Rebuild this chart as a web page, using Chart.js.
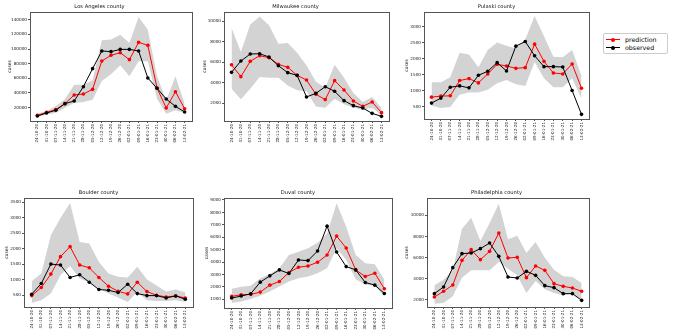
<!DOCTYPE html>
<html>
<head>
<meta charset="utf-8">
<script src="https://cdn.jsdelivr.net/npm/chart.js@4"></script>
<style>
  html, body { margin: 0; padding: 0; background: #fff; }
  body { width: 673px; height: 336px; position: relative; overflow: hidden; font-family: "DejaVu Sans", sans-serif; }
  canvas { position: absolute; }
  #legend { position: absolute; left: 603px; top: 33px; width: 63px; height: 19px; border: 1px solid #ccc; border-radius: 2px; background: #fff; font-size: 6.3px; color: #000; }
  #legend .line { position: absolute; left: 2px; width: 14px; height: 1px; }
  #legend .dot { position: absolute; left: 7px; width: 4px; height: 4px; border-radius: 50%; }
  #legend .txt { position: absolute; left: 21px; line-height: 7px; white-space: nowrap; }
</style>
</head>
<body>
<div id="legend">
  <div class="line" style="top:5px;background:#ff0000"></div>
  <div class="dot" style="top:3.5px;background:#ff0000"></div>
  <div class="txt" style="top:2px">prediction</div>
  <div class="line" style="top:13px;background:#000"></div>
  <div class="dot" style="top:11.5px;background:#000"></div>
  <div class="txt" style="top:10px">observed</div>
</div>
<script>
const dates = ['24-10-20','31-10-20','07-11-20','14-11-20','21-11-20','28-11-20','05-12-20','12-12-20','19-12-20','26-12-20','02-01-21','09-01-21','16-01-21','23-01-21','30-01-21','06-02-21','13-02-21'];

// Los Angeles
const laObserved   = [8600, 12700, 16400, 25500, 29100, 48600, 73200, 97300, 96400, 99500, 99500, 97300, 60500, 46400, 31800, 21800, 14100];
const laPrediction = [9500, 13600, 17300, 25500, 37300, 38600, 45000, 83600, 91400, 95000, 85500, 109100, 105000, 46800, 19500, 41800, 18600];
const laUpper      = [11800, 15500, 21800, 31800, 51400, 51400, 57300, 111800, 113000, 119500, 108200, 143600, 126400, 62700, 30000, 62700, 25500];
const laLower      = [7300, 10500, 12700, 20000, 26400, 27700, 30900, 56400, 65500, 77700, 62700, 83200, 83200, 32300, 11800, 16400, 12700];
const laTicks      = [20000, 40000, 60000, 80000, 100000, 120000, 140000];

// Milwaukee
const mkObserved   = [4990, 6100, 6780, 6810, 6490, 5640, 4960, 4700, 2590, 2940, 3590, 3140, 2230, 1740, 1510, 990, 700];
const mkPrediction = [5740, 4570, 6070, 6620, 6420, 5770, 5480, 4700, 4240, 2850, 2330, 4180, 3270, 2200, 1670, 2100, 1060];
const mkUpper      = [9350, 6980, 9670, 10450, 9580, 7790, 7850, 6910, 5670, 4110, 3500, 5740, 4470, 2980, 2100, 2590, 1510];
const mkLower      = [3400, 2360, 3400, 4540, 4470, 4470, 3720, 3240, 3140, 1670, 1540, 2420, 1870, 1540, 1350, 1540, 800];
const mkTicks      = [2000, 4000, 6000, 8000, 10000];

// Pulaski
const pkObserved   = [614, 770, 1112, 1153, 1091, 1485, 1610, 1880, 1620, 2398, 2543, 2097, 1755, 1755, 1745, 1008, 261];
const pkPrediction = [800, 832, 842, 1320, 1382, 1247, 1527, 1828, 1776, 1703, 1724, 2460, 1921, 1558, 1527, 1838, 1081];
const pkUpper      = [1268, 1268, 1423, 2191, 2139, 1734, 2274, 2512, 2409, 2326, 2606, 3342, 2710, 2066, 2046, 2274, 1465];
const pkLower      = [530, 460, 490, 873, 946, 946, 1029, 1236, 1340, 1205, 1153, 1900, 1392, 1112, 1112, 1392, 749];
const pkTicks      = [500, 1000, 1500, 2000, 2500, 3000];

// Boulder
const bdObserved   = [532, 879, 1506, 1474, 1074, 1160, 922, 684, 662, 587, 857, 554, 489, 489, 413, 478, 370];
const bdPrediction = [489, 749, 1182, 1745, 2069, 1474, 1387, 1074, 792, 630, 543, 922, 619, 500, 446, 478, 413];
const bdUpper      = [954, 1203, 2448, 2989, 3476, 2221, 2167, 1571, 1203, 1095, 1074, 1420, 1009, 814, 619, 684, 597];
const bdLower      = [251, 338, 554, 1149, 1442, 1041, 911, 716, 554, 424, 284, 608, 338, 316, 316, 338, 284];
const bdTicks      = [500, 1000, 1500, 2000, 2500, 3000, 3500];

// Duval
const dvObserved   = [1107, 1267, 1453, 2387, 2893, 3373, 3080, 4173, 4120, 4893, 6893, 4813, 3640, 3373, 2360, 2147, 1480];
const dvPrediction = [1240, 1373, 1400, 1587, 2147, 2440, 3160, 3587, 3693, 3987, 4573, 6093, 5133, 3373, 2840, 3107, 1853];
const dvUpper      = [1853, 2013, 2093, 2707, 3053, 3507, 4573, 4840, 5107, 5560, 6300, 8733, 6840, 4573, 3907, 3827, 2573];
const dvLower      = [707, 840, 1027, 1293, 1640, 2040, 2440, 2707, 2840, 3107, 3507, 5107, 4173, 2627, 2173, 2093, 1240];
const dvTicks      = [1000, 2000, 3000, 4000, 5000, 6000, 7000, 8000, 9000];

// Philadelphia
const phObserved   = [2569, 3202, 5036, 6364, 6427, 6838, 7375, 6111, 4150, 4055, 4688, 4308, 3328, 3138, 2569, 2569, 1937];
const phPrediction = [2253, 2791, 3391, 5731, 6743, 5794, 6585, 8324, 5953, 6016, 4087, 5194, 4783, 3518, 3265, 3107, 2791];
const phUpper      = [3360, 3897, 4783, 8735, 9779, 7565, 9273, 11107, 7723, 8071, 6427, 7470, 5984, 4846, 4213, 4150, 3581];
const phLower      = [1621, 1684, 2316, 4087, 4783, 4783, 4783, 5573, 4941, 4308, 2632, 3771, 2980, 2632, 2411, 2569, 1937];
const phTicks      = [2000, 4000, 6000, 8000, 10000];

const TITLE_H = 10;
const X_H = 30;
const RIGHT_PAD = 6;

// draws all four spines like matplotlib
const frame = {
  id: 'frame',
  afterDatasetsDraw(chart) {
    const { ctx, chartArea: a } = chart;
    ctx.save();
    ctx.strokeStyle = '#555';
    ctx.lineWidth = 1;
    ctx.strokeRect(Math.round(a.left) + 0.5, Math.round(a.top) + 0.5, Math.round(a.right - a.left), Math.round(a.bottom - a.top));
    ctx.restore();
  }
};

const pts = arr => arr.map((v, i) => ({ x: i, y: v }));

function makeChart(cfg) {
  const b = cfg.box;
  const left = b.left - cfg.yW, top = b.top - TITLE_H;
  const canvas = document.createElement('canvas');
  canvas.width = b.right - left + RIGHT_PAD;
  canvas.height = b.bottom - top + X_H;
  canvas.style.left = left + 'px';
  canvas.style.top = top + 'px';
  document.body.appendChild(canvas);

  new Chart(canvas.getContext('2d'), {
    type: 'line',
    data: {
      datasets: [
        { data: pts(cfg.upper), borderWidth: 0, pointRadius: 0, fill: '+1', backgroundColor: '#d3d3d3', order: 3 },
        { data: pts(cfg.lower), borderWidth: 0, pointRadius: 0, fill: false, order: 3 },
        { label: 'prediction', data: pts(cfg.prediction), borderColor: '#ff0000', backgroundColor: '#ff0000', borderWidth: 1, pointRadius: 1.8, pointBorderWidth: 0, order: 2 },
        { label: 'observed', data: pts(cfg.observed), borderColor: '#000', backgroundColor: '#000', borderWidth: 1, pointRadius: 1.8, pointBorderWidth: 0, order: 1 }
      ]
    },
    options: {
      responsive: false,
      animation: false,
      events: [],
      layout: { padding: { left: 0, top: 0, right: RIGHT_PAD, bottom: 0 } },
      plugins: {
        legend: { display: false },
        tooltip: { enabled: false },
        title: {
          display: true, text: cfg.title, color: '#111',
          font: { family: 'DejaVu Sans', size: 5.2, weight: 'normal', lineHeight: '6px' },
          padding: { top: 2, bottom: 2 }
        }
      },
      scales: {
        x: {
          type: 'linear', min: -0.8, max: 16.8,
          afterBuildTicks: s => { s.ticks = dates.map((d, i) => ({ value: i })); },
          afterFit: s => { s.height = X_H; },
          border: { display: false },
          grid: { drawOnChartArea: false, drawTicks: true, tickLength: 2, color: '#555' },
          ticks: {
            autoSkip: false, minRotation: 90, maxRotation: 90, padding: 1, color: '#222',
            font: { family: 'DejaVu Sans', size: 4.1 },
            callback: v => dates[v]
          }
        },
        y: {
          min: cfg.min, max: cfg.max,
          afterBuildTicks: s => { s.ticks = cfg.ticks.map(v => ({ value: v })); },
          afterFit: s => { s.width = cfg.yW; },
          border: { display: false },
          grid: { drawOnChartArea: false, drawTicks: true, tickLength: 2, color: '#555' },
          title: { display: true, text: 'cases', color: '#222', padding: 0, font: { family: 'DejaVu Sans', size: 4.5 } },
          ticks: { padding: 1, color: '#222', font: { family: 'DejaVu Sans', size: 4.2 }, callback: v => String(v) }
        }
      }
    },
    plugins: [frame]
  });
}

makeChart({ title: 'Los Angeles county', box: { left: 30, top: 12, right: 192, bottom: 121 }, yW: 23, min: 1800, max: 150500,
  ticks: laTicks, observed: laObserved, prediction: laPrediction, upper: laUpper, lower: laLower });
makeChart({ title: 'Milwaukee county', box: { left: 224, top: 12, right: 389, bottom: 121 }, yW: 22, min: 244, max: 10880,
  ticks: mkTicks, observed: mkObserved, prediction: mkPrediction, upper: mkUpper, lower: mkLower });
makeChart({ title: 'Pulaski county', box: { left: 424, top: 12, right: 589, bottom: 119 }, yW: 20, min: 116, max: 3467,
  ticks: pkTicks, observed: pkObserved, prediction: pkPrediction, upper: pkUpper, lower: pkLower });
makeChart({ title: 'Boulder county', box: { left: 24, top: 198, right: 193, bottom: 307 }, yW: 20, min: 121, max: 3638,
  ticks: bdTicks, observed: bdObserved, prediction: bdPrediction, upper: bdUpper, lower: bdLower });
makeChart({ title: 'Duval county', box: { left: 224, top: 198, right: 392, bottom: 308 }, yW: 20, min: 307, max: 9160,
  ticks: dvTicks, observed: dvObserved, prediction: dvPrediction, upper: dvUpper, lower: dvLower });
makeChart({ title: 'Philadelphia county', box: { left: 427, top: 198, right: 589, bottom: 307 }, yW: 23, min: 1304, max: 11644,
  ticks: phTicks, observed: phObserved, prediction: phPrediction, upper: phUpper, lower: phLower });
</script>
</body>
</html>
